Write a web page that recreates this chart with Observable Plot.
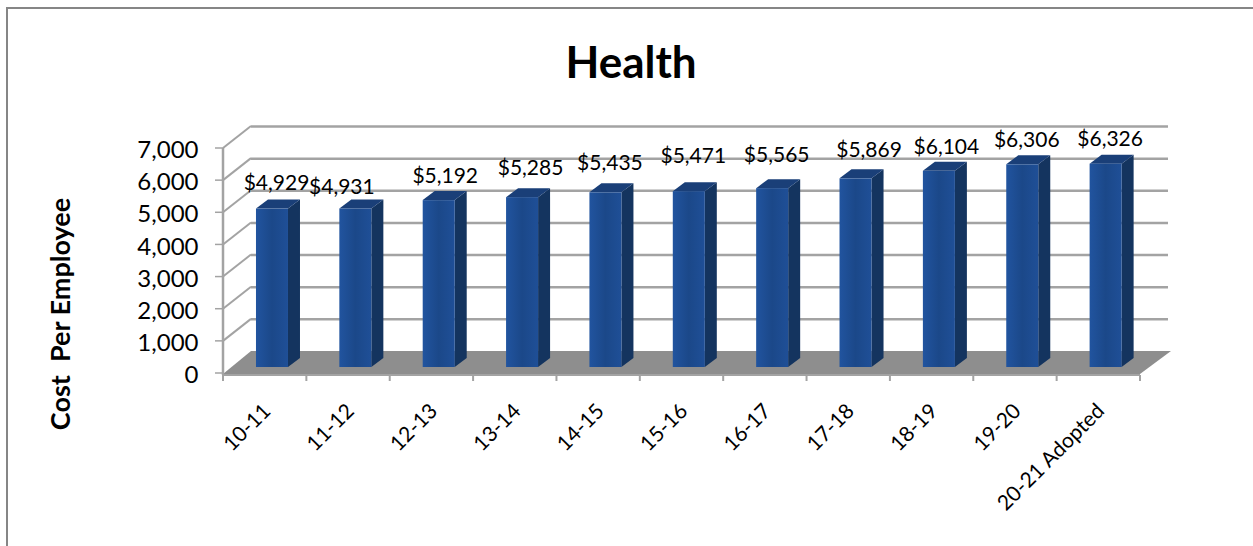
<!DOCTYPE html>
<html>
<head>
<meta charset="utf-8">
<style>
html,body{margin:0;padding:0;background:#fff;overflow:hidden;width:1253px;height:546px}
#frame{position:absolute;left:6px;top:7px;right:0;bottom:0;border-left:2px solid #868686;border-top:2px solid #868686}
#chart{position:absolute;left:0;top:0}
svg{display:block;background:transparent}
</style>
<script src="https://cdn.jsdelivr.net/npm/d3@7"></script>
<script src="https://cdn.jsdelivr.net/npm/@observablehq/plot@0.6"></script>
</head>
<body>
<div id="frame"></div>
<div id="chart"></div>
<script>
const titleText = "Health";
const yTitle = "Cost  Per Employee";
const categories = ["10-11","11-12","12-13","13-14","14-15","15-16","16-17","17-18","18-19","19-20","20-21 Adopted"];
const costs = [4929,4931,5192,5285,5435,5471,5565,5869,6104,6306,6326];
const yTicks = [0,1000,2000,3000,4000,5000,6000,7000];

// label placement tweaks (pixels), kept apart from the data
const labelNudgeX = [-2,-20,0,2,-2,-2,-2,7,1,-2,-2];
const labelNudgeY = [0,4,2,-3,-4,-9,-7,-3,2,1,1];

const wall = {dx:28, dy:-22};
const bar = {dx:7.3, dy:-6, deepX:12, deepY:-9};
const gridColor = "#a3a3a3", floorColor = "#8e8e8e", font = "Lato, sans-serif";
const rows = categories.map((c,i)=>({c, v:costs[i]}));
const bandOf = x => typeof x.bandwidth === "function" ? x.bandwidth() : x.bandwidth;

function poly(parent, pts, fill){
  d3.select(parent).append("polygon")
    .attr("points", pts.map(p=>p.join(",")).join(" "))
    .attr("fill", fill);
}
const svgNS = "http://www.w3.org/2000/svg";

// floor, left wall diagonals, axis lines
function floorMark(index, {x, y}){
  const g = document.createElementNS(svgNS,"g");
  const defs = d3.select(g).append("defs").append("linearGradient").attr("id","barFront");
  [["0","#21549f"],["0.5","#1b4889"],["1","#1f4f97"]].forEach(([o,c])=>defs.append("stop").attr("offset",o).attr("stop-color",c));
  const bw = bandOf(x);
  const step = x(categories[1])-x(categories[0]);
  const left = x(categories[0])+bw/2-step/2;
  const right = left+step*categories.length;
  const y0 = y(0), yTop = y(yTicks[yTicks.length-1]);
  poly(g, [[left,y0+1],[right,y0+1],[right+wall.dx+3,y0+wall.dy],[left+wall.dx,y0+wall.dy]], floorColor);
  const line=(x1,y1,x2,y2,w=2)=>d3.select(g).append("line").attr("x1",x1).attr("y1",y1).attr("x2",x2).attr("y2",y2)
    .attr("stroke",gridColor).attr("stroke-width",w);
  yTicks.forEach(t=>{ if(t>0) line(left,y(t),left+wall.dx,y(t)+wall.dy); line(left-8,y(t),left,y(t),1.5); });
  line(left,yTop,left,y0+2,2.5);
  line(left,y0+2,right,y0+2);
  for(let i=0;i<=categories.length;i++) line(left+i*step,y0+2,left+i*step,y0+8);
  return g;
}
// top and side faces of each bar
function barFaces(index, {x, y}){
  const g = document.createElementNS(svgNS,"g");
  const bw = bandOf(x);
  rows.forEach(d=>{
    const x0=x(d.c)+bar.dx, x1=x0+bw, yt=y(d.v)+bar.dy, yb=y(0)+bar.dy;
    poly(g,[[x1,yt],[x1+bar.deepX,yt+bar.deepY],[x1+bar.deepX,yb+bar.deepY],[x1,yb]],"#14345f");
    poly(g,[[x0,yt],[x1,yt],[x1+bar.deepX,yt+bar.deepY],[x0+bar.deepX,yt+bar.deepY]],"#1a3f78");
  });
  return g;
}

const plot = Plot.plot({
  width:1253, height:546,
  marginLeft:223, marginRight:113, marginTop:148, marginBottom:173,
  style:{background:"transparent", fontFamily:font},
  x:{type:"band", round:false, domain:categories, paddingInner:0.616, paddingOuter:0.308, label:null},
  y:{domain:[0,7000], label:null},
  marks:[
    Plot.ruleY(yTicks.filter(t=>t>0),{y:d=>d, dx:wall.dx, dy:wall.dy, stroke:gridColor, strokeWidth:2.5}),
    floorMark,
    Plot.axisY({ticks:yTicks, tickFormat:d=>d3.format(",")(d), tickSize:0, tickPadding:25, dy:2, fontSize:24, fill:"#000", label:null}),
    Plot.axisX({tickSize:0, tickRotate:-45, tickPadding:22, dx:2, dy:12, fontSize:21, fill:"#000", label:null}),
    barFaces,
    Plot.barY(rows,{x:"c", y:"v", dx:bar.dx, dy:bar.dy, fill:"url(#barFront)"}),
    ...rows.map((d,i)=>Plot.text([d],{x:"c", y:"v", text:r=>"$"+d3.format(",")(r.v),
      dx:bar.dx+bar.deepX/2+labelNudgeX[i], dy:bar.dy+bar.deepY-17+labelNudgeY[i],
      fontSize:21, fill:"#000"})),
    Plot.text([titleText],{frameAnchor:"top", dx:-51, dy:-102, text:d=>d, fontSize:44, fontWeight:"bold", fill:"#000"}),
    Plot.text([yTitle],{frameAnchor:"left", dx:-162, dy:53, text:d=>d, rotate:-90, fontSize:27, fontWeight:"bold", fill:"#000", textAnchor:"middle"})
  ]
});
document.getElementById("chart").append(plot);
</script>
</body>
</html>
